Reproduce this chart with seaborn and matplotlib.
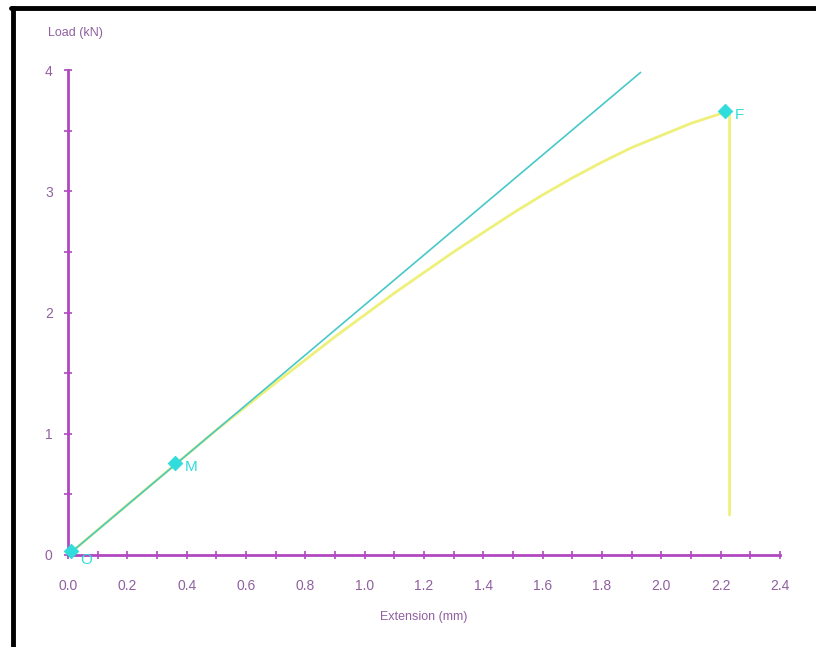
import matplotlib
matplotlib.use("Agg")
import matplotlib.pyplot as plt
from matplotlib.lines import Line2D
from matplotlib.ticker import MultipleLocator
import seaborn as sns
import pandas as pd

sns.set_style("white")
plt.rcParams['font.family'] = ['Liberation Sans', 'DejaVu Sans']

# Data
curve_ext = [0.0, 0.1, 0.2, 0.3, 0.4, 0.5, 0.6, 0.7, 0.8, 0.9, 1.0, 1.1, 1.2, 1.3, 1.4,
             1.5, 1.6, 1.7, 1.8, 1.9, 2.0, 2.1, 2.2, 2.22, 2.23, 2.23]
curve_load = [0.0, 0.207, 0.414, 0.62, 0.825, 1.03, 1.225, 1.42, 1.61, 1.80, 1.98, 2.16,
              2.33, 2.50, 2.66, 2.82, 2.97, 3.11, 3.24, 3.36, 3.46, 3.56, 3.64, 3.66, 3.64, 0.33]
fit_ext = [0.0, 1.93]
fit_load = [0.0, 3.98]
pt_labels = ["O", "M", "F"]
pt_ext = [0.01, 0.36, 2.215]
pt_load = [0.03, 0.76, 3.66]
x_ticks = [0.0, 0.2, 0.4, 0.6, 0.8, 1.0, 1.2, 1.4, 1.6, 1.8, 2.0, 2.2, 2.4]
x_tick_labels = ["0.0", "0.2", "0.4", "0.6", "0.8", "1.0", "1.2", "1.4", "1.6", "1.8", "2.0", "2.2", "2.4"]
y_ticks = [0, 1, 2, 3, 4]
y_tick_labels = ["0", "1", "2", "3", "4"]

purple = "#b048c0"
label_col = "#9060a0"
cyan_line = "#48c8c8"
cyan_mark = "#30dcdc"
yellow = "#eef07a"

fig = plt.figure(figsize=(8.16, 6.47), dpi=100)
ax = fig.add_axes([68/816, 1-555/647, (780-68)/816, (555-70)/647])

df_curve = pd.DataFrame({"ext": curve_ext, "load": curve_load})
df_fit = pd.DataFrame({"ext": fit_ext, "load": fit_load})
df_pts = pd.DataFrame({"ext": pt_ext, "load": pt_load, "lab": pt_labels})

sns.lineplot(data=df_curve, x="ext", y="load", sort=False, estimator=None, color=yellow,
             lw=2.0, ax=ax, zorder=2)
sns.lineplot(data=df_fit, x="ext", y="load", sort=False, estimator=None, color=cyan_line,
             lw=1.2, ax=ax, zorder=3)
sns.scatterplot(data=df_pts, x="ext", y="load", marker="D", s=55, color=cyan_mark,
                edgecolor=cyan_mark, ax=ax, zorder=4, clip_on=False)
for _, r in df_pts.iterrows():
    dy = -6 if r["lab"] == "O" else -3
    ax.annotate(r["lab"], (r["ext"], r["load"]), xytext=(7, dy), textcoords="offset points",
                color=cyan_mark, fontsize=11, va="center", ha="left", annotation_clip=False)

ax.set_xlim(0, 2.4)
ax.set_ylim(0, 4)
ax.set_xticks(x_ticks)
ax.set_xticklabels(x_tick_labels)
ax.set_yticks(y_ticks)
ax.set_yticklabels(y_tick_labels)
ax.xaxis.set_minor_locator(MultipleLocator(0.1))
ax.yaxis.set_minor_locator(MultipleLocator(0.5))
ax.tick_params(which="both", direction="inout", color=purple, width=1.2, length=6)
ax.tick_params(axis="x", which="both", pad=14, labelcolor=label_col, labelsize=10)
ax.tick_params(axis="y", which="both", pad=8, labelcolor=label_col, labelsize=10)
ax.tick_params(left=True, bottom=True, which="both")
for s in ["top", "right"]:
    ax.spines[s].set_visible(False)
for s in ["left", "bottom"]:
    ax.spines[s].set_color(purple)
    ax.spines[s].set_linewidth(2)
ax.set_xlabel("")
ax.set_ylabel("")
ax.patch.set_alpha(0)

fig.text(48/816, 1-33/647, "Load (kN)", color=label_col, fontsize=9, ha="left", va="center")
fig.text(424/816, 1-617/647, "Extension (mm)", color=label_col, fontsize=9, ha="center", va="center")

# image border
fig.add_artist(Line2D([13/816, 13/816], [0, 1-8/647], color="black", lw=3.5, transform=fig.transFigure))
fig.add_artist(Line2D([11/816, 1], [1-8/647, 1-8/647], color="black", lw=3.5, transform=fig.transFigure))

fig.savefig("out.png", dpi=100)
